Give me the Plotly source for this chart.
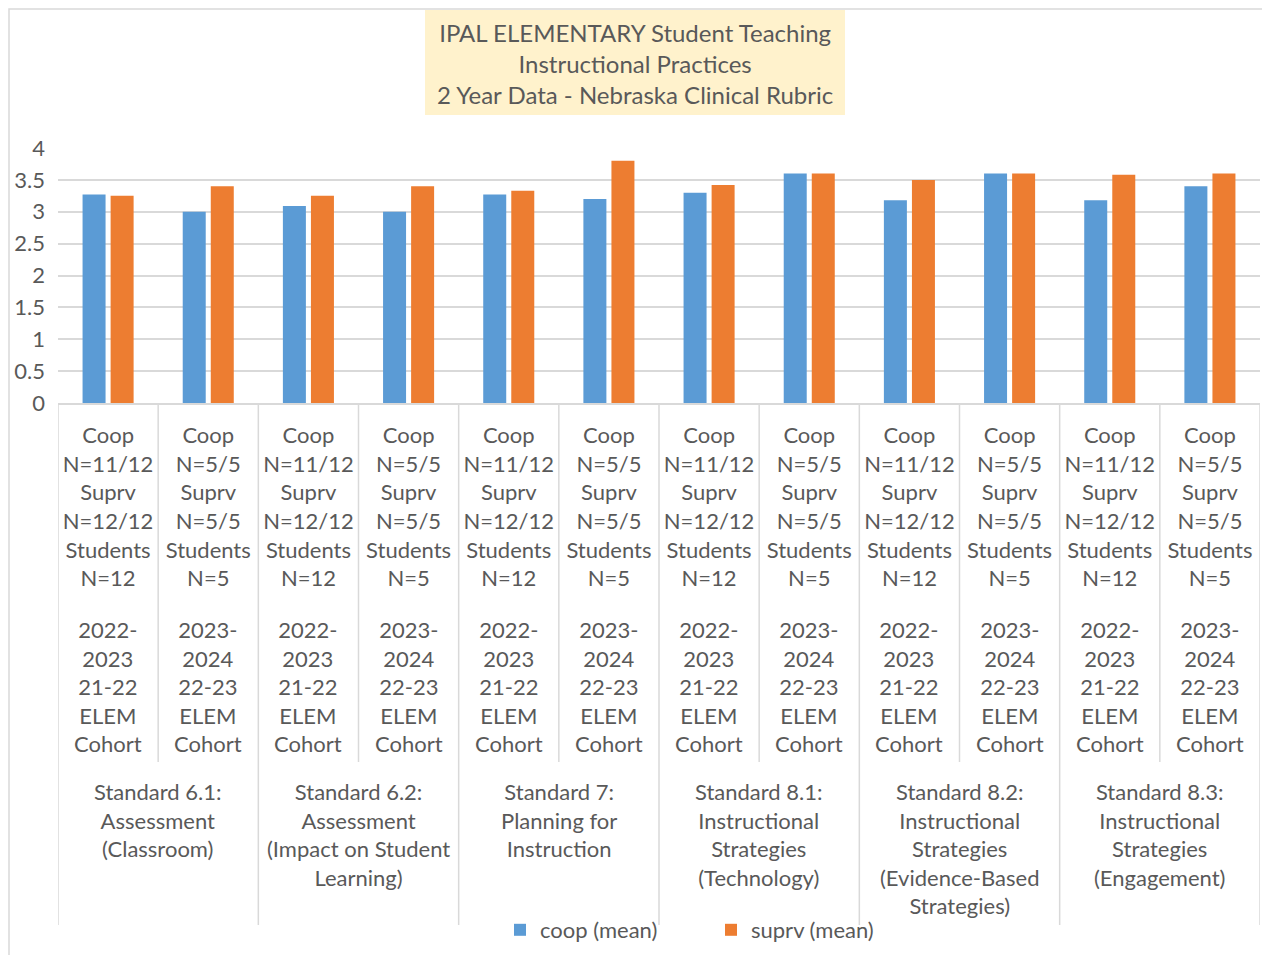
import plotly.graph_objects as go

# ---------------- data ----------------
standards = [
    "Standard 6.1:<br>Assessment<br>(Classroom)",
    "Standard 6.2:<br>Assessment<br>(Impact on Student<br>Learning)",
    "Standard 7:<br>Planning for<br>Instruction",
    "Standard 8.1:<br>Instructional<br>Strategies<br>(Technology)",
    "Standard 8.2:<br>Instructional<br>Strategies<br>(Evidence-Based<br>Strategies)",
    "Standard 8.3:<br>Instructional<br>Strategies<br>(Engagement)",
]
n_labels = [
    "Coop<br>N=11/12<br>Suprv<br>N=12/12<br>Students<br>N=12",
    "Coop<br>N=5/5<br>Suprv<br>N=5/5<br>Students<br>N=5",
] * 6
cohort_labels = [
    "2022-<br>2023<br>21-22<br>ELEM<br>Cohort",
    "2023-<br>2024<br>22-23<br>ELEM<br>Cohort",
] * 6
coop_mean = [3.27, 3.0, 3.09, 3.0, 3.27, 3.2, 3.3, 3.6, 3.18, 3.6, 3.18, 3.4]
suprv_mean = [3.25, 3.4, 3.25, 3.4, 3.33, 3.8, 3.42, 3.6, 3.5, 3.6, 3.58, 3.6]
series_names = ["coop (mean)", "suprv (mean)"]
title_text = ("IPAL ELEMENTARY Student Teaching<br>Instructional Practices<br>"
              "2 Year Data - Nebraska Clinical Rubric")

# ---------------- layout helpers (page pixel coordinates) ----------------
OFF = 8                      # default body margin of the html page
W, H = 1262, 947
P_L, P_R, P_T, P_B = 58, 1260, 148, 403   # plot area in page px
M_L = P_L - OFF
M_R = OFF + W - P_R
M_T = P_T - OFF
M_B = OFF + H - P_B


def px_x(px):
    return (px - P_L) / (P_R - P_L)


def px_y(py):
    return (P_B - py) / (P_B - P_T)


FONT = "Lato, 'Open Sans', sans-serif"
TXT = "#595959"
GRID = "#d9d9d9"

positions = list(range(len(coop_mean)))

fig = go.Figure()
fig.add_trace(go.Bar(x=positions, y=coop_mean, name=series_names[0],
                     marker=dict(color="#5B9BD5", line=dict(width=0))))
fig.add_trace(go.Bar(x=positions, y=suprv_mean, name=series_names[1],
                     marker=dict(color="#ED7D31", line=dict(width=0))))

shapes = []
# chart border
shapes.append(dict(type="rect", xref="paper", yref="paper",
                   x0=px_x(OFF + 1), x1=px_x(1268), y0=px_y(OFF + 1), y1=px_y(990),
                   line=dict(color=GRID, width=1.5), layer="below"))
# title box
shapes.append(dict(type="rect", xref="paper", yref="paper",
                   x0=px_x(425), x1=px_x(845), y0=px_y(10), y1=px_y(115),
                   fillcolor="#FFF2CC", line=dict(width=0), layer="below"))
# dividers between categories
for i in range(len(positions) + 1):
    xb = i - 0.5
    bottom = 925 if i % 2 == 0 else 762
    shapes.append(dict(type="line", xref="x", yref="paper", x0=xb, x1=xb,
                       y0=0, y1=px_y(bottom), line=dict(color=GRID, width=1.5)))

annotations = []
for i, lab in enumerate(cohort_labels):
    annotations.append(dict(x=i, xref="x", y=px_y(686), yref="paper",
                            yanchor="middle", xanchor="center", text=lab,
                            showarrow=False, font=dict(size=22, color=TXT, family=FONT)))
for k, st in enumerate(standards):
    annotations.append(dict(x=2 * k + 0.5, xref="x", y=px_y(776), yref="paper",
                            yanchor="top", xanchor="center", text=st,
                            showarrow=False, font=dict(size=22, color=TXT, family=FONT)))
annotations.append(dict(x=px_x(635), xref="paper", y=px_y(63), yref="paper",
                        xanchor="center", yanchor="middle", text=title_text,
                        showarrow=False,
                        font=dict(size=24, color=TXT, family=FONT)))

fig.update_layout(
    width=W, height=H,
    margin=dict(l=M_L, r=M_R, t=M_T, b=M_B, autoexpand=False),
    paper_bgcolor="white", plot_bgcolor="white",
    font=dict(family=FONT, size=22, color=TXT),
    barmode="group", bargap=0.44, bargroupgap=0.18,
    showlegend=True,
    legend=dict(orientation="h", xref="container", yref="container",
                x=(500 - OFF) / W, xanchor="left",
                y=1 - (930 - OFF) / H, yanchor="middle", bgcolor="rgba(0,0,0,0)",
                font=dict(size=22, color=TXT, family=FONT),
                entrywidth=166, entrywidthmode="pixels"),
    shapes=shapes, annotations=annotations,
    xaxis=dict(range=[-0.5, len(positions) - 0.5], tickmode="array",
               tickvals=positions, ticktext=n_labels, ticks="",
               ticklabelstandoff=12, showgrid=False, zeroline=False,
               showline=True, linecolor=GRID, linewidth=1.5,
               tickfont=dict(size=22, color=TXT, family=FONT), fixedrange=True),
    yaxis=dict(range=[0, 4], dtick=0.5, showgrid=True, gridcolor=GRID,
               gridwidth=1.5, zeroline=False, showline=False,
               ticklabelstandoff=12,
               tickfont=dict(size=22, color=TXT, family=FONT), fixedrange=True),
)

fig.write_html("out.html")
